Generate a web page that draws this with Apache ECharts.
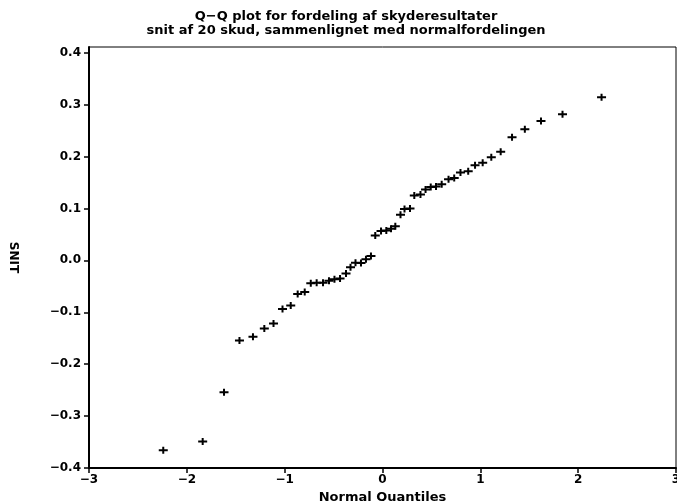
<!DOCTYPE html>
<html>
<head>
<meta charset="utf-8">
<script src="https://cdn.jsdelivr.net/npm/echarts@6/dist/echarts.min.js"></script>
<style>html,body{margin:0;padding:0;background:#fff;}#c{width:677px;height:501px;}</style>
</head>
<body>
<div id="c"></div>
<script>
var titleLines = ["Q\u2212Q plot for fordeling af skyderesultater", "snit af 20 skud, sammenlignet med normalfordelingen"];
var xName = "Normal Quantiles";
var yName = "SNIT";
var xTicks = [-3, -2, -1, 0, 1, 2, 3];
var yTicks = [-0.4, -0.3, -0.2, -0.1, 0.0, 0.1, 0.2, 0.3, 0.4];
var normalQuantiles = [-2.241, -1.838, -1.620, -1.462, -1.324, -1.208, -1.114, -1.022, -0.938, -0.867,
  -0.795, -0.733, -0.673, -0.608, -0.547, -0.491, -0.434, -0.373, -0.327, -0.276,
  -0.220, -0.169, -0.118, -0.074, -0.015, 0.039, 0.087, 0.131, 0.184, 0.225,
  0.281, 0.325, 0.388, 0.440, 0.493, 0.547, 0.605, 0.675, 0.733, 0.797,
  0.876, 0.946, 1.024, 1.112, 1.208, 1.324, 1.455, 1.620, 1.840, 2.239];
var snitValues = [-0.3658, -0.349, -0.2543, -0.1542, -0.1474, -0.1314, -0.1214, -0.0937, -0.0871, -0.0647,
  -0.0609, -0.0441, -0.0431, -0.0431, -0.0392, -0.0363, -0.0348, -0.0251, -0.0131, -0.0048,
  -0.0050, 0.0019, 0.0085, 0.0477, 0.0564, 0.0574, 0.0607, 0.0657, 0.0879, 0.0989,
  0.0999, 0.1250, 0.1270, 0.1366, 0.1414, 0.1424, 0.1467, 0.1563, 0.1585, 0.1691,
  0.1718, 0.1834, 0.1880, 0.1985, 0.2091, 0.2371, 0.2526, 0.2686, 0.2815, 0.3144];

var pts = normalQuantiles.map(function (x, i) { return [x, snitValues[i]]; });
var FONT = "DejaVu Sans";
function fmtY(v) {
  var a = Math.abs(v).toFixed(1);
  return (v < -1e-9 ? "\u2212" : "") + a;
}
function fmtX(v) {
  return (v < 0 ? "\u2212" : "") + Math.abs(v);
}
var chart = echarts.init(document.getElementById('c'), null, {renderer: 'canvas'});
chart.setOption({
  animation: false,
  backgroundColor: '#fff',
  title: {
    text: titleLines.join('\n'),
    left: 341, top: 5, textAlign: 'center',
    textStyle: {fontFamily: FONT, fontWeight: 'bold', fontSize: 13, color: '#000', lineHeight: 14}
  },
  grid: {left: 89, right: 1, top: 47, bottom: 33, show: true, borderColor: '#000', borderWidth: 1,
    backgroundColor: 'transparent', outerBoundsMode: 'none', containLabel: false},
  xAxis: {
    type: 'value', min: -3, max: 3, interval: 1,
    name: xName, nameLocation: 'middle', nameGap: 19,
    nameTextStyle: {fontFamily: FONT, fontWeight: 'bold', fontSize: 13, color: '#000'},
    axisLine: {show: true, onZero: false, lineStyle: {color: '#000', width: 2}},
    axisTick: {show: true, length: 5, inside: false, lineStyle: {color: '#000', width: 1.5}, customValues: xTicks},
    axisLabel: {margin: 6, fontFamily: FONT, fontWeight: 'bold', fontSize: 12, color: '#000', formatter: fmtX, customValues: xTicks},
    splitLine: {show: false}
  },
  yAxis: {
    type: 'value', min: -0.4, max: 0.411,
    name: yName, nameLocation: 'middle', nameGap: 70, nameRotate: -90,
    nameTextStyle: {fontFamily: FONT, fontWeight: 'bold', fontSize: 12, color: '#000'},
    axisLine: {show: true, onZero: false, lineStyle: {color: '#000', width: 2}},
    axisTick: {show: true, length: 5, inside: false, lineStyle: {color: '#000', width: 1.5}, customValues: yTicks},
    axisLabel: {margin: 8, fontFamily: FONT, fontWeight: 'bold', fontSize: 12, color: '#000', formatter: fmtY, customValues: yTicks},
    splitLine: {show: false}
  },
  series: [{
    type: 'scatter',
    data: pts,
    symbol: 'path://M0,2.5H3.5V0H5.5V2.5H9V4.5H5.5V7H3.5V4.5H0Z',
    symbolSize: [9, 7],
    symbolKeepAspect: false,
    itemStyle: {color: '#000', opacity: 1},
    emphasis: {disabled: true}
  }]
});
</script>
</body>
</html>
